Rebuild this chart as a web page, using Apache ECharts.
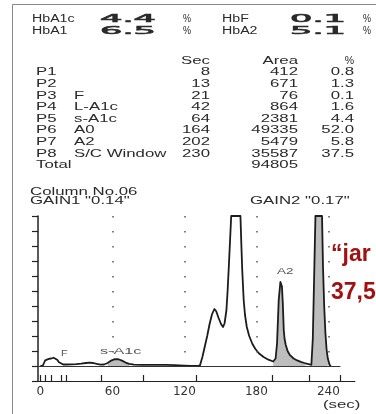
<!DOCTYPE html>
<html><head><meta charset="utf-8">
<script src="https://cdn.jsdelivr.net/npm/echarts@6/dist/echarts.min.js"></script>
<style>html,body{margin:0;padding:0;background:#fff}#c{width:376px;height:414px}</style>
</head><body><div id="c"></div>
<script>
// ---- summary values ----
const summaryLabels = ['HbA1c', 'HbA1', 'HbF', 'HbA2'];
const summaryValues = ['4.4', '6.5', '0.1', '5.1'];

// ---- peak table ----
const peakIds   = ['P1','P2','P3','P4','P5','P6','P7','P8'];
const peakNames = ['', '', 'F', 'L-A1c', 's-A1c', 'A0', 'A2', 'S/C Window'];
const peakSec   = [8, 13, 21, 42, 64, 164, 202, 230];
const peakArea  = [412, 671, 76, 864, 2381, 49335, 5479, 35587];
const peakPct   = ['0.8','1.3','0.1','1.6','4.4','52.0','5.8','37.5'];
const totalArea = 94805;

// ---- chromatogram (sec, signal in grid units; clipped at 10) ----
const times = [0,2,3,4,5,7,9,11,12.5,14,15.5,17,19,22,26,30,34,38,41,44,47,50,53,56,59,62,65,68,71,74,78,85,95,105,112,120,126,131,
  133,135,137,139,141,143,145,146.5,148.5,150.5,152.2,153.5,155,156,157,158,159,166.7,167.5,168.2,169.4,170.5,172,174,176.5,179,182,186,190,194,
  196,197.2,198.6,200,200.6,201.3,202,202.8,203.5,204.5,206,208,211,214,217,220,223.5,225.8,
  227,228.3,229.2,234.7,235.5,236.5,237.5,238.5,239.5,241,242];
const signal = [0,0.02,0.2,0.38,0.45,0.47,0.5,0.55,0.53,0.42,0.25,0.14,0.1,0.1,0.11,0.13,0.16,0.2,0.22,0.2,0.14,0.09,0.1,0.2,0.36,0.46,0.45,0.36,0.23,0.14,0.09,0.07,0.08,0.08,0.06,0.03,0.01,0,
  0.05,0.6,1.3,2.0,2.8,3.45,3.8,3.65,3.2,2.8,2.6,2.85,3.7,5.0,6.6,8.3,10,10,8,6.4,4.4,3.4,2.6,2.0,1.5,1.15,0.85,0.6,0.42,0.3,
  0.5,1.5,4.4,5.6,5.73,5.3,4.2,2.4,1.8,1.4,1.0,0.72,0.5,0.37,0.28,0.2,0.13,0.08,
  1.8,6.6,10,10,6.6,4.0,2.2,1.1,0.5,0.08,0];

// shaded (integrated) peak windows, seconds
const shadeRanges = [[55, 77], [194, 223.5], [225.8, 242]];

// axis
const xLabels   = [0, 60, 120, 180, 240];
const tickMarks = [0, 4, 9, 17.5, 21.5, 50.5, 86, 130, 193, 224, 250];
const guideLines = [60, 120, 180, 240];

const chart = echarts.init(document.getElementById('c'), null, {renderer: 'canvas'});
const TXT = '#2a2a2a';
const SANS = 'Liberation Sans, Arial, sans-serif';

function txt(x, y, s, o) {
  o = o || {};
  const align = o.align || 'left';
  const style = {
    text: s, font: o.font || ('10.5px ' + SANS), fill: o.fill || TXT,
    align: align, verticalAlign: 'middle', textAlign: align, textVerticalAlign: 'middle'
  };
  if (o.stroke) { style.stroke = o.stroke; style.lineWidth = o.lw || 0.5; }
  return {
    type: 'text', x: x, y: y, scaleX: o.sx == null ? 1.6 : o.sx, silent: true, z: 10,
    style: style
  };
}

const g = [];
// frame
g.push({type: 'line', shape: {x1: 12.5, y1: 4.5, x2: 376, y2: 4.5}, style: {stroke: '#8a8a8a', lineWidth: 1}, silent: true});
g.push({type: 'line', shape: {x1: 12.5, y1: 4.5, x2: 12.5, y2: 414}, style: {stroke: '#8a8a8a', lineWidth: 1}, silent: true});

// summary block
const sumLx = [32, 32, 222, 222], sumVx = [100, 100, 290, 290], sumPx = [183, 183, 363, 363], sumY = [19.5, 31, 19.5, 31];
summaryLabels.forEach((s, i) => {
  g.push(txt(sumLx[i], sumY[i], s, {font: '10px ' + SANS, sx: 1.42}));
  g.push(txt(sumVx[i], sumY[i], summaryValues[i], {font: '11px DejaVu Sans, sans-serif', sx: 3.2, stroke: TXT, lw: 0.6}));
  g.push(txt(sumPx[i], sumY[i], '%', {font: '10px ' + SANS, sx: 0.9}));
});

// table
g.push(txt(210, 61.5, 'Sec', {align: 'right'}));
g.push(txt(298, 61.5, 'Area', {align: 'right'}));
g.push(txt(354, 61.5, '%', {align: 'right', sx: 1.0}));
peakIds.forEach((p, i) => {
  const y = 72.5 + i * 11.6;
  g.push(txt(36, y, p));
  if (peakNames[i]) g.push(txt(74, y, peakNames[i]));
  g.push(txt(210, y, String(peakSec[i]), {align: 'right'}));
  g.push(txt(298, y, String(peakArea[i]), {align: 'right'}));
  g.push(txt(354, y, peakPct[i], {align: 'right'}));
});
g.push(txt(36, 165.5, 'Total'));
g.push(txt(298, 165.5, String(totalArea), {align: 'right'}));

g.push(txt(30, 192.5, 'Column No.06'));
g.push(txt(30, 201.5, 'GAIN1 "0.14"'));
g.push(txt(250, 201.5, 'GAIN2 "0.17"'));

// peak labels in plot
g.push(txt(61, 354, 'F', {font: '9px ' + SANS, sx: 1.2, fill: '#555'}));
g.push(txt(100, 352, 's-A1c', {font: '9px ' + SANS, sx: 1.8, fill: '#555'}));
g.push(txt(277, 271.5, 'A2', {font: '9px ' + SANS, sx: 1.5, fill: '#555'}));
g.push(txt(323, 405, '(sec)', {font: '10.5px ' + SANS, sx: 1.6}));

// red overlay text
g.push(txt(331, 255, '\u201Cjar', {font: 'bold 23px ' + SANS, sx: 1.0, fill: '#a3100f'}));
g.push(txt(331, 293, '37,5', {font: 'bold 23px ' + SANS, sx: 1.0, fill: '#a3100f'}));

const mainData = times.map((t, i) => [t, signal[i]]);
const shadeSeries = shadeRanges.map(r => ({
  type: 'line', data: mainData.filter(d => d[0] >= r[0] && d[0] <= r[1]),
  showSymbol: false, silent: true, z: 1,
  lineStyle: {width: 0, opacity: 0},
  areaStyle: {color: '#bdbdbd', opacity: 1, origin: 'auto'}
}));

const markData = [[{coord: [-2, 0], lineStyle: {type: 'solid', width: 1, color: '#333'}}, {coord: [250, 0]}]];
guideLines.forEach(v => markData.push([
  {coord: [v, 10], lineStyle: {type: [1.5, 13.5], width: 1.5, color: '#555'}}, {coord: [v, 0]}
]));

chart.setOption({
  animation: false,
  backgroundColor: '#ffffff',
  grid: {left: 38, top: 216, width: 316.8, height: 165, containLabel: false, outerBoundsMode: 'none'},
  xAxis: {
    type: 'value', min: -2, max: 262,
    axisLine: {onZero: false, lineStyle: {color: '#222', width: 1.2}},
    axisTick: {show: true, inside: true, length: 6, customValues: tickMarks, lineStyle: {color: '#222', width: 1.2}},
    axisLabel: {customValues: xLabels, fontFamily: 'DejaVu Sans', fontSize: 12, color: '#333', margin: 5},
    splitLine: {show: false}
  },
  yAxis: {
    type: 'value', min: -1, max: 10, interval: 1,
    axisLine: {show: true, onZero: false, lineStyle: {color: '#222', width: 1.5}},
    axisTick: {show: true, inside: false, length: 6, lineStyle: {color: '#222', width: 1.2}},
    axisLabel: {show: false},
    splitLine: {show: false}
  },
  series: shadeSeries.concat([{
    type: 'line', data: mainData, showSymbol: false, silent: true, z: 3,
    lineStyle: {color: '#1c1c1c', width: 1.8, join: 'round'},
    markLine: {silent: true, symbol: ['none', 'none'], label: {show: false}, animation: false, data: markData}
  }]),
  graphic: {elements: g}
});
</script>
</body></html>
